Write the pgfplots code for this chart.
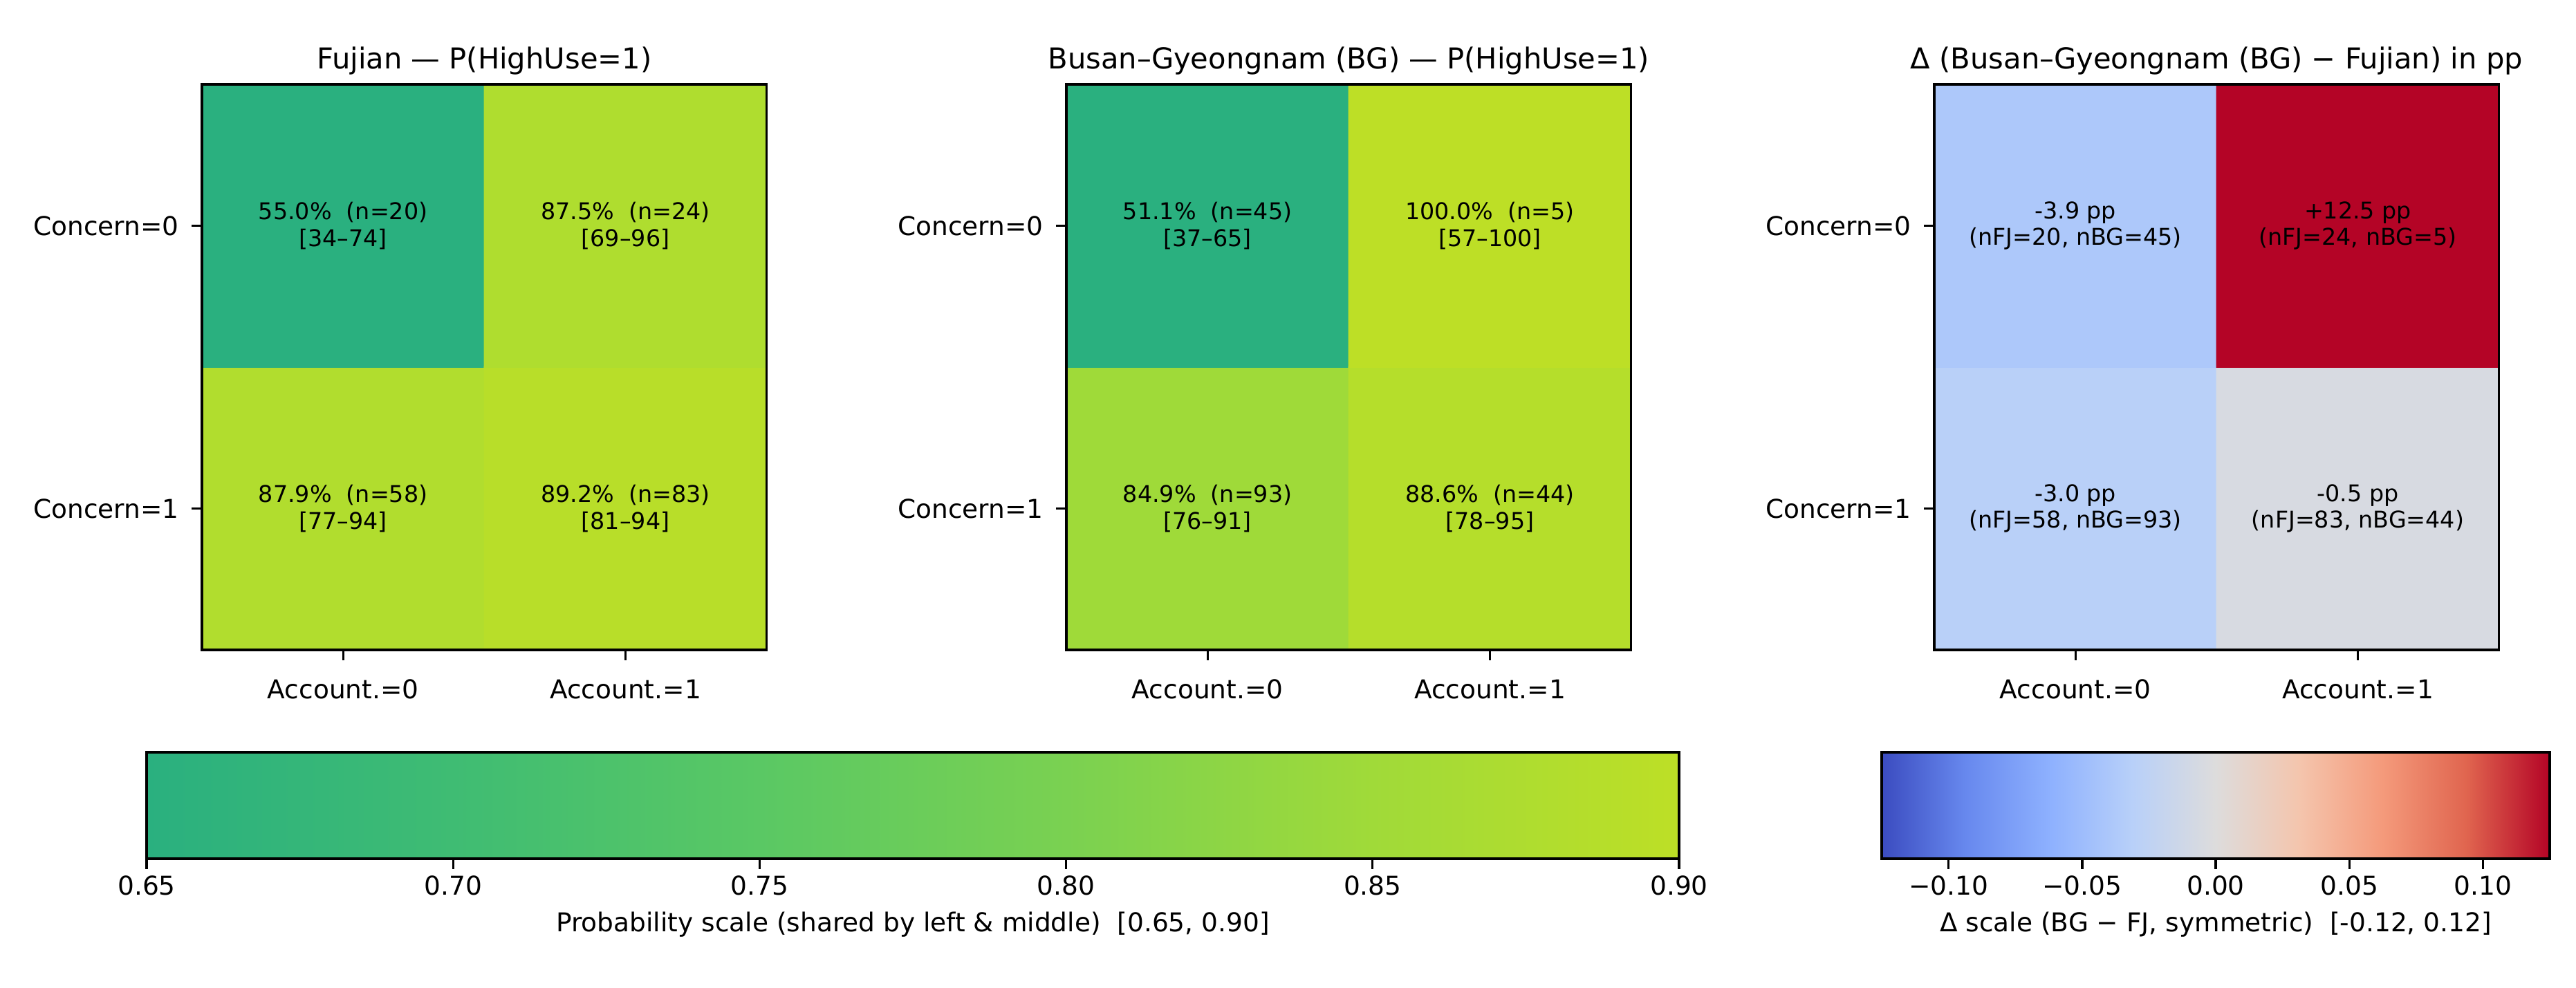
\documentclass[border=0pt]{standalone}
\usepackage{fontspec}
\setmainfont{DejaVu Sans}
\usepackage{pgfplots}
\pgfplotsset{compat=1.18}

\pgfplotsset{
  colormap={vir}{rgb255(0)=(42,176,127) rgb255(1)=(63,188,115) rgb255(2)=(90,200,100) rgb255(3)=(122,209,81) rgb255(4)=(160,218,57) rgb255(5)=(189,223,38)},
  colormap={cw}{rgb255(0)=(59,76,192) rgb255(1)=(103,136,238) rgb255(2)=(141,176,254) rgb255(3)=(184,208,249) rgb255(4)=(221,220,220) rgb255(5)=(244,197,173) rgb255(6)=(244,154,123) rgb255(7)=(224,101,79) rgb255(8)=(180,4,38)},
  common/.style={
    scale only axis, anchor=south west, axis on top,
    tick align=outside, major tick length=3.5pt,
    every tick/.style={black, line width=0.8pt},
    axis line style={black, line width=0.8pt},
    ticklabel style={font=\fontsize{9}{10.8}\selectfont},
  },
  heat/.style={common,
    width=196pt, height=196.3pt,
    xmin=-0.5, xmax=1.5, ymin=-0.5, ymax=1.5, enlargelimits=false,
    xtick={0,1}, ytick={0,1},
    xticklabels={Account.=0, Account.=1},
    yticklabels={Concern=1, Concern=0},
    xtick pos=bottom, ytick pos=left,
    xticklabel style={anchor=base, yshift=-13.5pt},
    yticklabel style={anchor=east, xshift=-1pt},
    title style={at={(0.5,1)}, anchor=base, yshift=-0.7pt, font=\fontsize{10}{12}\selectfont},
  },
  cbar/.style={common,
    height=36.96pt, ymin=0, ymax=1, ytick=\empty,
    xtick pos=bottom,
    xticklabel style={anchor=base, yshift=-9pt},
    xlabel style={at={(axis description cs:0.5,0)}, anchor=base, yshift=-25.4pt, font=\fontsize{9}{10.8}\selectfont},
  },
}
\tikzset{cell/.style={align=center, font=\fontsize{8}{9.2}\selectfont, text=black}}

\begin{document}
\begin{tikzpicture}
\useasboundingbox (0,0) rectangle (894pt,342.72pt);

% ---------------- Fujian ----------------
\begin{axis}[heat, at={(70.08pt,117.12pt)}, colormap name=vir,
  point meta min=0.65, point meta max=0.90,
  title={Fujian — P(HighUse=1)}]
\addplot[matrix plot*, mesh/cols=2, point meta=explicit] table[meta=c] {
x y c
0 0 0.879
1 0 0.892
0 1 0.550
1 1 0.875
};
\node[cell] at (axis cs:0,1) {55.0\%\ \ (n=20)\\{}[34–74]};
\node[cell] at (axis cs:1,1) {87.5\%\ \ (n=24)\\{}[69–96]};
\node[cell] at (axis cs:0,0) {87.9\%\ \ (n=58)\\{}[77–94]};
\node[cell] at (axis cs:1,0) {89.2\%\ \ (n=83)\\{}[81–94]};
\end{axis}

% ---------------- Busan-Gyeongnam ----------------
\begin{axis}[heat, at={(370.08pt,117.12pt)}, colormap name=vir,
  point meta min=0.65, point meta max=0.90,
  title={Busan–Gyeongnam (BG) — P(HighUse=1)}]
\addplot[matrix plot*, mesh/cols=2, point meta=explicit] table[meta=c] {
x y c
0 0 0.849
1 0 0.886
0 1 0.511
1 1 1.000
};
\node[cell] at (axis cs:0,1) {51.1\%\ \ (n=45)\\{}[37–65]};
\node[cell] at (axis cs:1,1) {100.0\%\ \ (n=5)\\{}[57–100]};
\node[cell] at (axis cs:0,0) {84.9\%\ \ (n=93)\\{}[76–91]};
\node[cell] at (axis cs:1,0) {88.6\%\ \ (n=44)\\{}[78–95]};
\end{axis}

% ---------------- Delta ----------------
\begin{axis}[heat, at={(671.28pt,117.12pt)}, colormap name=cw,
  point meta min=-0.125, point meta max=0.125,
  title={Δ (Busan–Gyeongnam (BG) − Fujian) in pp}]
\addplot[matrix plot*, mesh/cols=2, point meta=explicit] table[meta=c] {
x y c
0 0 -0.030
1 0 -0.005
0 1 -0.039
1 1 0.125
};
\node[cell] at (axis cs:0,1) {-3.9 pp\\(nFJ=20, nBG=45)};
\node[cell] at (axis cs:1,1) {+12.5 pp\\(nFJ=24, nBG=5)};
\node[cell] at (axis cs:0,0) {-3.0 pp\\(nFJ=58, nBG=93)};
\node[cell] at (axis cs:1,0) {-0.5 pp\\(nFJ=83, nBG=44)};
\end{axis}

% ---------------- Colorbar 1 ----------------
\begin{axis}[cbar, at={(50.88pt,44.64pt)}, width=531.84pt,
  xmin=0.65, xmax=0.90, colormap name=vir,
  point meta min=0.65, point meta max=0.90,
  xtick={0.65,0.70,0.75,0.80,0.85,0.90},
  xticklabels={0.65,0.70,0.75,0.80,0.85,0.90},
  xlabel={Probability scale (shared by left \& middle)\ \ [0.65, 0.90]}]
\addplot[surf, shader=interp, mesh/rows=2, mesh/cols=2, point meta=x] coordinates {
(0.65,0) (0.90,0)

(0.65,1) (0.90,1)
};
\end{axis}

% ---------------- Colorbar 2 ----------------
\begin{axis}[cbar, at={(653.04pt,44.64pt)}, width=231.84pt,
  xmin=-0.125, xmax=0.125, colormap name=cw,
  point meta min=-0.125, point meta max=0.125,
  xtick={-0.10,-0.05,0,0.05,0.10},
  xticklabels={−0.10,−0.05,0.00,0.05,0.10},
  xlabel={Δ scale (BG − FJ, symmetric)\ \ [-0.12, 0.12]}]
\addplot[surf, shader=interp, mesh/rows=2, mesh/cols=2, point meta=x] coordinates {
(-0.125,0) (0.125,0)

(-0.125,1) (0.125,1)
};
\end{axis}
\end{tikzpicture}
\end{document}
